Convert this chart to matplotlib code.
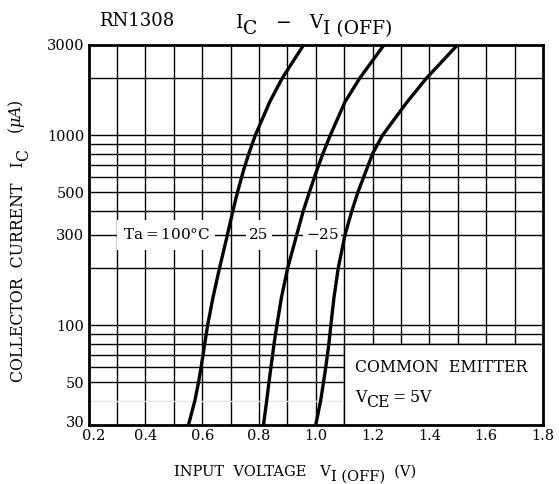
import matplotlib
matplotlib.use("Agg")
import matplotlib.pyplot as plt
import matplotlib.transforms as mtransforms
from matplotlib.patches import Rectangle

plt.rcParams['font.family'] = 'DejaVu Serif'
plt.rcParams['mathtext.fontset'] = 'dejavuserif'

# collector current (uA) and input voltage (V)
ic = [30, 40, 50, 60, 70, 80, 100, 140, 200, 300, 400, 500, 650, 800, 1000, 1500, 2000, 3000]
v_100 = [0.552, 0.574, 0.587, 0.596, 0.603, 0.609, 0.619, 0.638, 0.661, 0.689, 0.708, 0.724, 0.745, 0.764, 0.787, 0.838, 0.882, 0.958]
v_25 = [0.816, 0.827, 0.835, 0.842, 0.848, 0.853, 0.863, 0.879, 0.901, 0.933, 0.956, 0.977, 1.003, 1.025, 1.051, 1.103, 1.155, 1.241]
v_m25 = [1.000, 1.017, 1.027, 1.035, 1.041, 1.046, 1.053, 1.064, 1.079, 1.103, 1.127, 1.148, 1.177, 1.200, 1.235, 1.322, 1.390, 1.500]

curve_labels = ['Ta$=$100°C', '25', '$-$25']
label_x = [0.475, 0.80, 1.025]
label_box = [(0.30, 0.645), (0.755, 0.845), (0.955, 1.09)]

x_ticks = [0.2, 0.4, 0.6, 0.8, 1.0, 1.2, 1.4, 1.6, 1.8]
x_grid = [0.3, 0.4, 0.5, 0.6, 0.7, 0.8, 0.9, 1.0, 1.1, 1.2, 1.3, 1.4, 1.5, 1.6, 1.7]
y_ticks = [30, 50, 100, 300, 500, 1000, 3000]
y_grid = [50, 60, 70, 80, 90, 100, 200, 300, 400, 500, 600, 700, 800, 900, 1000, 2000]

fig = plt.figure(figsize=(5.59, 4.84), dpi=100)
ax = fig.add_axes([88.6/559, 1-424.6/484, 454.4/559, 380/484])


def sub_chain(first, parts, fs, rot=False):
    # parts: (text, is_subscript) placed one after another, subscripts just dropped
    prev, prev_sub = first, False
    for s, sub in parts:
        shift = 0.3 * fs * ((1 if sub else -1) if sub != prev_sub else 0)
        if rot:
            prev = ax.annotate(s, xy=(1, 1), xycoords=prev, xytext=(shift, 0), textcoords='offset points',
                               fontsize=fs, rotation=90, ha='right', va='bottom', annotation_clip=False)
        else:
            prev = ax.annotate(s, xy=(1, 0), xycoords=prev, xytext=(0, -shift), textcoords='offset points',
                               fontsize=fs, ha='left', va='bottom', annotation_clip=False)
        prev_sub = sub


ax.set_xlim(0.2, 1.8)
ax.set_ylim(30, 3000)
ax.set_yscale('log')

for x in x_grid:
    ax.axvline(x, color='black', lw=1.0, zorder=1)
for y in y_grid:
    ax.axhline(y, color='black', lw=1.0, zorder=1)
ax.axhline(40, color='#e6e6e6', lw=1.0, zorder=1)

# white label boxes interrupting the grid
for (x0, x1) in label_box:
    ax.add_patch(Rectangle((x0, 250), x1-x0, 110, facecolor='white', edgecolor='none', zorder=2))
for lab, x in zip(curve_labels, label_x):
    ax.text(x, 300, lab, ha='center', va='center', fontsize=11, zorder=4)

# conditions box
ax.add_patch(Rectangle((1.1, 30), 0.7, 50, facecolor='white', edgecolor='black', lw=1.0, zorder=2))
ax.text(1.138, 60, 'COMMON  EMITTER', fontsize=11.3, va='center', zorder=4)
vce = ax.text(1.138, 37.6, 'V', fontsize=11.3, va='bottom', zorder=4)
sub_chain(vce, [('CE', True), ('$=$5V', False)], 11.3)

for v in [v_100, v_25, v_m25]:
    ax.plot(v, ic, color='black', lw=2.4, zorder=3, solid_capstyle='butt')

ax.set_xticks(x_ticks)
ax.set_xticklabels(['%.1f' % t for t in x_ticks])
ax.set_yticks(y_ticks)
ax.set_yticklabels([str(t) for t in y_ticks])
ax.minorticks_off()
ax.tick_params(length=0, labelsize=10.5, pad=3)
for s in ax.spines.values():
    s.set_linewidth(2)

# nudge the corner labels apart like the original
first = ax.get_xticklabels()[0]
first.set_transform(first.get_transform() + mtransforms.ScaledTranslation(5/100, 0, fig.dpi_scale_trans))
low = ax.get_yticklabels()[0]
low.set_transform(low.get_transform() + mtransforms.ScaledTranslation(0, 3/100, fig.dpi_scale_trans))

fig.text(137/559, 1-21/484, 'RN1308', fontsize=13, ha='center', va='center')
t = fig.text(236/559, 1-32/484, 'I', fontsize=13.5, ha='left', va='bottom')
sub_chain(t, [('C', True), ('   \u2212   V', False), ('I (OFF)', True)], 13.5)

t = fig.text(27/559, 1-382/484, 'COLLECTOR  CURRENT   I', fontsize=11.3, rotation=90, ha='right', va='bottom')
sub_chain(t, [('C', True), ('   ($\\mu A$)', False)], 11.3, rot=True)

t = fig.text(174/559, 1-479/484, 'INPUT  VOLTAGE   V', fontsize=10.5, ha='left', va='bottom')
sub_chain(t, [('I (OFF)', True), ('  (V)', False)], 10.5)

fig.savefig('out.png', dpi=100)
